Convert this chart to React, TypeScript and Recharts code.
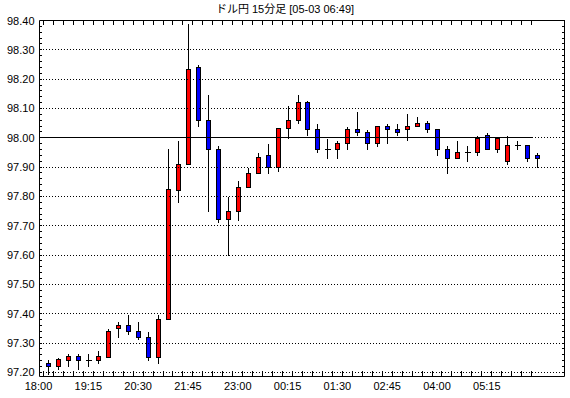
import React from "react";
import { ComposedChart, Bar, XAxis, YAxis, ReferenceLine } from "recharts";

// 15 minute candles, first one at 18:15
const opens = [
  97.233, 97.222, 97.243, 97.255, 97.243, 97.243, 97.253, 97.352, 97.362, 97.342,
  97.322, 97.253, 97.383, 97.823, 97.911, 98.242, 98.061, 97.963, 97.724, 97.751,
  97.833, 97.881, 97.942, 97.9, 98.032, 98.062, 98.123, 98.031, 97.963, 97.963,
  97.983, 98.031, 98.021, 97.983, 98.041, 98.031, 98.031, 98.041, 98.051, 98.031,
  97.963, 97.932, 97.953, 97.953, 98.011, 97.963, 97.922, 97.974, 97.974, 97.943,
];
const highs = [
  97.245, 97.253, 97.267, 97.267, 97.267, 97.276, 97.353, 97.374, 97.4, 97.374,
  97.342, 97.4, 97.965, 97.994, 98.39, 98.253, 98.151, 97.974, 97.803, 97.855,
  97.9, 97.953, 97.983, 98.032, 98.113, 98.151, 98.13, 98.051, 98.0, 97.993,
  98.041, 98.093, 98.031, 98.041, 98.051, 98.051, 98.083, 98.073, 98.062, 98.031,
  97.974, 97.993, 97.974, 98.011, 98.021, 98.0, 98.011, 97.993, 97.974, 97.953,
];
const lows = [
  97.195, 97.213, 97.222, 97.21, 97.222, 97.233, 97.253, 97.32, 97.33, 97.313,
  97.242, 97.233, 97.383, 97.78, 97.911, 98.04, 97.75, 97.712, 97.602, 97.72,
  97.833, 97.881, 97.881, 97.887, 98.0, 98.051, 98.009, 97.952, 97.93, 97.93,
  97.963, 98.009, 97.963, 97.973, 97.983, 98.009, 97.993, 98.041, 98.02, 97.94,
  97.88, 97.932, 97.92, 97.943, 97.963, 97.951, 97.912, 97.963, 97.92, 97.902,
];
const closes = [
  97.222, 97.244, 97.255, 97.243, 97.243, 97.255, 97.342, 97.362, 97.341, 97.322,
  97.253, 97.383, 97.824, 97.911, 98.233, 98.061, 97.963, 97.724, 97.751, 97.833,
  97.881, 97.933, 97.9, 98.032, 98.062, 98.122, 98.031, 97.963, 97.963, 97.983,
  98.031, 98.021, 97.983, 98.041, 98.031, 98.021, 98.041, 98.051, 98.031, 97.963,
  97.932, 97.953, 97.953, 98.0, 97.963, 98.0, 97.974, 97.974, 97.932, 97.932,
];

const timeLabels = ["18:00", "19:15", "20:30", "21:45", "23:00", "00:15", "01:30", "02:45", "04:00", "05:15"];
const priceLevels = [97.2, 97.3, 97.4, 97.5, 97.6, 97.7, 97.8, 97.9, 98.0, 98.1, 98.2, 98.3, 98.4];
const baseline = 98.0;
const title = "ドル円 15分足 [05-03 06:49]";

const UP = "#ff0000";
const DOWN = "#0000ff";
const FONT = '"Liberation Sans", Arial, sans-serif';

const xDomain: [number, number] = [0.1, 52.8];
const yDomain: [number, number] = [97.186, 98.4];
// tick mark lengths, in axis units
const markX = 0.3;
const markTop = 0.017;
const markBottom = 0.02;

const data = opens.map((o, i) => ({
  k: i + 1,
  open: o,
  high: highs[i],
  low: lows[i],
  close: closes[i],
  range: [lows[i], highs[i]],
}));

const slotMarks = data.map((d) => d.k - 0.5);
const labelTicks = timeLabels.map((_, i) => i * 5);
const minorPrices = Array.from({ length: 61 }, (_, i) => Math.round((97.2 + i * 0.02) * 100) / 100);

const px = (v: number) => Math.round(v) + 0.5;

function Candle(props: any) {
  const { x, y, width, height, payload } = props;
  if (x == null || !payload) return null;
  const top = Math.min(y, y + height);
  const h = Math.abs(height);
  const span = payload.high - payload.low;
  const ratio = span > 0 ? h / span : 0;
  const yOf = (v: number) => top + (payload.high - v) * ratio;
  const cx = px(x + width / 2);
  const bTop = px(yOf(Math.max(payload.open, payload.close)));
  const bBot = px(yOf(Math.min(payload.open, payload.close)));
  const up = payload.close >= payload.open;
  return (
    <g shapeRendering="crispEdges">
      <line x1={cx} x2={cx} y1={px(top)} y2={px(top + h)} stroke="#000" />
      {bBot - bTop < 1 ? (
        <line x1={cx - 3} x2={cx + 3} y1={bTop} y2={bTop} stroke="#000" />
      ) : (
        <rect x={cx - 2} y={bTop} width={4} height={bBot - bTop} fill={up ? UP : DOWN} stroke="#000" />
      )}
    </g>
  );
}

const bottomTick = (props: any) => {
  const { x, y, payload } = props;
  return (
    <text x={x} y={y + 13} textAnchor="middle" fontSize={11} fontFamily={FONT} fill="#000">
      {timeLabels[payload.value / 5]}
    </text>
  );
};

const leftTick = (props: any) => {
  const { x, y, payload } = props;
  return (
    <text x={x - 5} y={y + 4} textAnchor="end" fontSize={11} fontFamily={FONT} fill="#000">
      {payload.value.toFixed(2)}
    </text>
  );
};

export default function App() {
  return (
    <div style={{ position: "absolute", left: 0, top: 0, width: 570, height: 398, background: "#fff" }}>
      <ComposedChart width={570} height={398} data={data} margin={{ top: 0, right: 0, bottom: 0, left: 0 }}>
        <XAxis
          xAxisId="b"
          dataKey="k"
          type="number"
          orientation="bottom"
          domain={xDomain}
          allowDataOverflow
          ticks={labelTicks}
          interval={0}
          height={21.5}
          tickSize={0}
          tickMargin={0}
          tickLine={false}
          axisLine={{ stroke: "#000" }}
          tick={bottomTick}
        />
        <XAxis
          xAxisId="t"
          dataKey="k"
          type="number"
          orientation="top"
          domain={xDomain}
          allowDataOverflow
          ticks={[]}
          height={20.5}
          tickLine={false}
          tick={false}
          axisLine={{ stroke: "#000" }}
        />
        <YAxis
          yAxisId="l"
          type="number"
          orientation="left"
          domain={yDomain}
          allowDataOverflow
          ticks={priceLevels}
          interval={0}
          width={39.5}
          tickSize={0}
          tickMargin={0}
          tickLine={false}
          axisLine={{ stroke: "#000" }}
          tick={leftTick}
        />
        <YAxis
          yAxisId="r"
          type="number"
          orientation="right"
          domain={yDomain}
          allowDataOverflow
          ticks={[]}
          width={5.5}
          tickLine={false}
          tick={false}
          axisLine={{ stroke: "#000" }}
        />
        {priceLevels.slice(0, -1).map((v) => (
          <ReferenceLine key={v} xAxisId="b" yAxisId="l" y={v} stroke="#000" strokeDasharray="1 2" shapeRendering="crispEdges" />
        ))}
        {minorPrices.map((v) => (
          <ReferenceLine
            key={`ml${v}`}
            xAxisId="b"
            yAxisId="l"
            segment={[
              { x: xDomain[0], y: v },
              { x: xDomain[0] + markX, y: v },
            ]}
            stroke="#000"
            shapeRendering="crispEdges"
          />
        ))}
        {minorPrices.map((v) => (
          <ReferenceLine
            key={`mr${v}`}
            xAxisId="b"
            yAxisId="l"
            segment={[
              { x: xDomain[1] - markX, y: v },
              { x: xDomain[1], y: v },
            ]}
            stroke="#000"
            shapeRendering="crispEdges"
          />
        ))}
        {slotMarks.map((v) => (
          <ReferenceLine
            key={`st${v}`}
            xAxisId="b"
            yAxisId="l"
            segment={[
              { x: v, y: yDomain[1] },
              { x: v, y: yDomain[1] - markTop },
            ]}
            stroke="#000"
            shapeRendering="crispEdges"
          />
        ))}
        {slotMarks.map((v) => (
          <ReferenceLine
            key={`sb${v}`}
            xAxisId="b"
            yAxisId="l"
            segment={[
              { x: v, y: yDomain[0] },
              { x: v, y: yDomain[0] + markBottom },
            ]}
            stroke="#000"
            shapeRendering="crispEdges"
          />
        ))}
        <ReferenceLine
          xAxisId="b"
          yAxisId="l"
          segment={[
            { x: xDomain[0], y: baseline },
            { x: data[data.length - 1].k - 0.5, y: baseline },
          ]}
          stroke="#000"
          shapeRendering="crispEdges"
        />
        <Bar xAxisId="b" yAxisId="l" dataKey="range" barSize={6} shape={Candle} isAnimationActive={false} />
      </ComposedChart>
      <div
        style={{
          position: "absolute",
          left: 0,
          top: 2,
          width: 570,
          textAlign: "center",
          fontFamily: '"Liberation Sans", "Noto Sans CJK JP", sans-serif',
          fontSize: 11,
          lineHeight: "14px",
          color: "#000",
        }}
      >
        {title}
      </div>
    </div>
  );
}
